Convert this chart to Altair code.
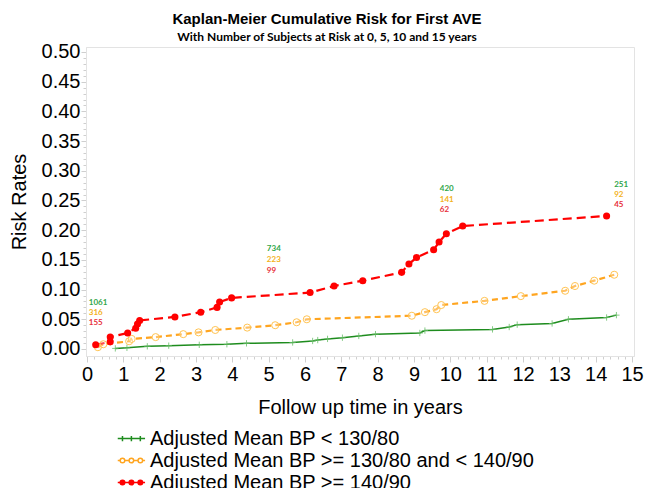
import altair as alt
import pandas as pd

S1 = "Adjusted Mean BP < 130/80"
S2 = "Adjusted Mean BP >= 130/80 and < 140/90"
S3 = "Adjusted Mean BP >= 140/90"
series_names = [S1, S2, S3]

green_t = [0.78, 1.10, 1.66, 2.25, 3.09, 3.85, 4.39, 5.66, 6.21, 6.35, 6.62, 7.03, 7.48, 7.94,
           9.16, 9.30, 11.16, 11.62, 11.84, 12.80, 13.25, 14.30, 14.57]
green_v = [0.001, 0.002, 0.0045, 0.0056, 0.007, 0.008, 0.0095, 0.011, 0.0135, 0.015, 0.017, 0.019,
           0.022, 0.025, 0.027, 0.031, 0.033, 0.037, 0.041, 0.043, 0.050, 0.053, 0.057]

orange_t = [0.30, 0.45, 1.16, 1.23, 1.89, 2.65, 3.07, 3.53, 4.41, 5.18, 5.77, 6.05, 8.94, 9.30,
            9.62, 9.75, 10.94, 11.94, 13.16, 13.43, 13.96, 14.51]
orange_v = [0.003, 0.008, 0.013, 0.017, 0.020, 0.025, 0.028, 0.032, 0.036, 0.040, 0.045, 0.050,
            0.056, 0.062, 0.067, 0.074, 0.081, 0.089, 0.098, 0.106, 0.115, 0.125]

red_t = [0.24, 0.64, 0.64, 1.12, 1.34, 1.39, 1.45, 2.42, 3.13, 3.58, 3.65, 3.98, 6.14, 6.80, 7.59,
         8.66, 8.86, 9.07, 9.54, 9.69, 9.89, 10.34, 14.30]
red_v = [0.007, 0.012, 0.020, 0.027, 0.035, 0.042, 0.048, 0.054, 0.062, 0.070, 0.079, 0.086, 0.095,
         0.106, 0.115, 0.129, 0.143, 0.154, 0.167, 0.180, 0.194, 0.207, 0.224]

# numbers at risk
risk_t = [0.05, 4.95, 9.71, 14.51]
risk_green = [1061, 734, 420, 251]
risk_orange = [316, 223, 141, 92]
risk_red = [155, 99, 62, 45]
risk_green_y = [0.077, 0.168, 0.269, 0.276]
risk_orange_y = [0.060, 0.150, 0.251, 0.259]
risk_red_y = [0.044, 0.132, 0.234, 0.242]

x_ticks = [round(i * 0.2, 1) for i in range(0, 76)]
y_ticks = [round(i * 0.01, 2) for i in range(0, 51)]

rows = []
for name, ts, vs in zip(series_names, [green_t, orange_t, red_t], [green_v, orange_v, red_v]):
    for i, (t, v) in enumerate(zip(ts, vs)):
        rows.append({"series": name, "t": t, "v": v, "order": i})
df = pd.DataFrame(rows)

ann_rows = []
for grp, labels, ys in [("g", risk_green, risk_green_y), ("o", risk_orange, risk_orange_y), ("r", risk_red, risk_red_y)]:
    for t, lab, y in zip(risk_t, labels, ys):
        ann_rows.append({"grp": grp, "t": t, "v": y, "label": str(lab)})
ann = pd.DataFrame(ann_rows)

FONT = "Liberation Sans"
x_scale = alt.Scale(domain=[-0.027, 15.054], nice=False, zero=False)
y_scale = alt.Scale(domain=[-0.0118, 0.5084], nice=False, zero=False)

x_axis = alt.Axis(
    values=x_ticks,
    labelExpr="abs(datum.value - round(datum.value)) < 0.001 ? format(datum.value, 'd') : ''",
    tickSize={"condition": {"test": "abs(datum.value - round(datum.value)) < 0.001", "value": 6}, "value": 3},
    labelOverlap=False, labelFlush=False, grid=False,
    labelFont=FONT, labelFontSize=20, labelColor="black", labelPadding=2,
    tickColor="#cfcfcf", domainColor="#e3e3e3",
    title="Follow up time in years", titleFont=FONT, titleFontSize=20,
    titleFontWeight="normal", titleColor="black", titlePadding=13,
)
y_axis = alt.Axis(
    values=y_ticks,
    labelExpr="abs(datum.value * 20 - round(datum.value * 20)) < 0.001 ? format(datum.value, '.2f') : ''",
    tickSize={"condition": {"test": "abs(datum.value * 20 - round(datum.value * 20)) < 0.001", "value": 5}, "value": 3},
    labelOverlap=False, labelFlush=False, grid=False,
    labelFont=FONT, labelFontSize=20, labelColor="black", labelPadding=1,
    tickColor="#cfcfcf", domainColor="#e3e3e3",
    title="Risk Rates", titleFont=FONT, titleFontSize=20,
    titleFontWeight="normal", titleColor="black", titlePadding=12,
)

X = alt.X("t:Q", scale=x_scale, axis=x_axis)
Y = alt.Y("v:Q", scale=y_scale, axis=y_axis)

line_colors = ["#1e8c1e", "#ffa520", "#ff0000"]

base = alt.Chart(df).encode(x=X, y=Y, order="order:Q")

line_g = base.transform_filter(alt.datum.series == S1).mark_line(color=line_colors[0], strokeWidth=1.5)
line_o = base.transform_filter(alt.datum.series == S2).mark_line(color=line_colors[1], strokeWidth=2.2, strokeDash=[6, 4])
line_r = base.transform_filter(alt.datum.series == S3).mark_line(color=line_colors[2], strokeWidth=2.2, strokeDash=[9, 5])

pts_g = base.transform_filter(alt.datum.series == S1).mark_point(
    shape="M-1,0L1,0M0,-1L0,1", filled=False, size=40, strokeWidth=1, color="#6abf6a", opacity=0.8)
pts_o = base.transform_filter(alt.datum.series == S2).mark_point(
    shape="circle", filled=False, size=50, strokeWidth=1, color="#ffc453", fill="white", fillOpacity=0.3)
pts_r = base.transform_filter(alt.datum.series == S3).mark_circle(size=50, color="#ff0000", opacity=1)

ann_base = alt.Chart(ann).encode(x=X, y=Y, text="label:N")
ann_style = dict(align="left", baseline="middle", font="Lato", fontWeight="bold", fontSize=8)
ann_g = ann_base.transform_filter(alt.datum.grp == "g").mark_text(color="#30a64a", **ann_style)
ann_o = ann_base.transform_filter(alt.datum.grp == "o").mark_text(color="#f3b21a", **ann_style)
ann_r = ann_base.transform_filter(alt.datum.grp == "r").mark_text(color="#e8303a", **ann_style)

# legend symbols: line + three markers (unit path coordinates)
def circ(cx, r):
    return f"M{cx + r},0A{r},{r} 0 1,0 {cx - r},0A{r},{r} 0 1,0 {cx + r},0"

L0, L1 = -1.5, 1.1
marks = [-1.05, -0.2, 0.65]
R = 0.22
path_g = f"M{L0},0L{L1},0" + "".join(f"M{m},-0.25L{m},0.25" for m in marks)
seg_edges = [L0] + [v for m in marks for v in (m - R, m + R)] + [L1]
path_o = "".join(f"M{seg_edges[i]:.2f},0L{seg_edges[i + 1]:.2f},0" for i in range(0, len(seg_edges), 2)) \
    + "".join(circ(m, R) for m in marks)
path_r = f"M{L0},0L{L1},0" + "".join(circ(m, r) for m in marks for r in (R, 0.13, 0.05))

leg_params = dict(orient="none", legendX=36, legendY=380, title=None, labelFont=FONT, labelFontSize=20,
                  labelColor="black", symbolSize=441, symbolStrokeWidth=1.5, symbolOpacity=1,
                  labelOffset=5, rowPadding=0, padding=0, labelLimit=600)

legend_layer = base.mark_point(opacity=0, filled=False, strokeWidth=1.5).encode(
    color=alt.Color("series:N", scale=alt.Scale(domain=series_names, range=line_colors), legend=alt.Legend(**leg_params)),
    shape=alt.Shape("series:N", scale=alt.Scale(domain=series_names, range=[path_g, path_o, path_r]),
                    legend=alt.Legend(**leg_params)),
)

chart = alt.layer(line_g, line_o, line_r, pts_g, pts_o, pts_r, ann_g, ann_o, ann_r, legend_layer).properties(
    width=548, height=309,
    autosize=alt.AutoSizeParams(type="none"),
    padding={"left": 78, "top": 39, "right": 11, "bottom": 132},
    title=alt.TitleParams(
        text="Kaplan-Meier Cumulative Risk for First AVE",
        subtitle="With Number of Subjects at Risk at 0, 5, 10 and 15 years",
        font=FONT, fontSize=15, fontWeight="bold", color="black",
        subtitleFont="Lato", subtitleFontSize=12, subtitleFontWeight="bold", subtitleColor="black",
        anchor="middle", dx=-33, offset=-1, subtitlePadding=5,
    ),
).configure_view(stroke="#e3e3e3", strokeWidth=1)

chart.save("out.html", embed_options={"renderer": "svg", "actions": False})
